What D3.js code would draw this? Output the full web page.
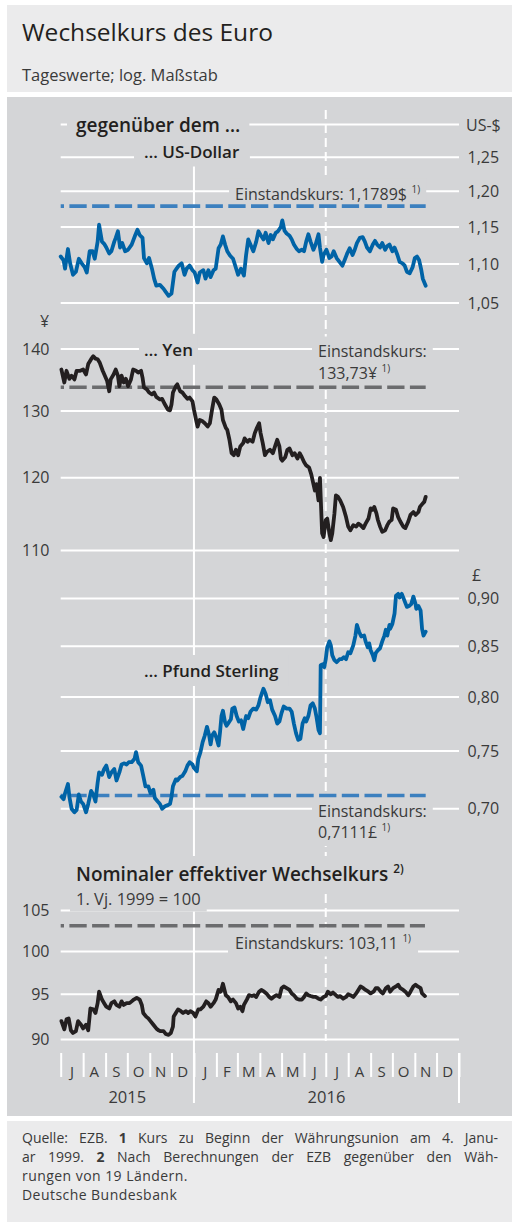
<!DOCTYPE html>
<html><head><meta charset="utf-8">
<script src="https://cdn.jsdelivr.net/npm/d3@7"></script>
<style>
body{margin:0;background:#fff;}
svg{display:block;font-family:"Open Sans",sans-serif;}
</style></head><body>
<svg id="c" width="512" height="1226"></svg>
<script>
// ---------- data ----------
const monthLetters = ["J","A","S","O","N","D","J","F","M","A","M","J","J","A","S","O","N","D"];
const yearLabels = ["2015","2016"];
const usdTicks = [1.05,1.10,1.15,1.20,1.25];
const usdGrid = [1.05,1.10,1.15,1.20,1.25,1.30];
const yenTicks = [110,120,130,140];
const gbpTicks = [0.70,0.75,0.80,0.85,0.90];
const neerTicks = [90,95,100,105];
const refUsd = 1.1789, refYen = 133.73, refGbp = 0.7111, refNeer = 103.11;
// [days since 1 July 2015, value]
const usd = [[0,1.110],[4,1.105],[6,1.094],[10,1.120],[13,1.101],[17,1.086],[21,1.090],[25,1.107],[29,1.101],[33,1.096],[36,1.089],[40,1.117],[44,1.117],[47,1.107],[51,1.130],[53,1.153],[57,1.130],[60,1.127],[63,1.122],[67,1.114],[70,1.117],[74,1.130],[76,1.135],[79,1.144],[82,1.122],[85,1.128],[89,1.117],[93,1.119],[98,1.126],[103,1.139],[106,1.146],[109,1.139],[113,1.135],[115,1.108],[119,1.101],[122,1.108],[126,1.094],[129,1.081],[132,1.072],[137,1.073],[142,1.068],[145,1.064],[149,1.059],[153,1.062],[157,1.090],[160,1.094],[163,1.098],[167,1.101],[171,1.086],[174,1.094],[178,1.098],[182,1.092],[185,1.089],[189,1.076],[192,1.089],[197,1.092],[200,1.081],[204,1.092],[207,1.083],[211,1.092],[214,1.094],[218,1.121],[221,1.126],[224,1.137],[227,1.126],[230,1.117],[234,1.111],[238,1.107],[243,1.092],[245,1.086],[249,1.094],[253,1.085],[256,1.112],[259,1.133],[262,1.126],[266,1.117],[270,1.130],[273,1.144],[276,1.139],[280,1.133],[283,1.142],[287,1.128],[290,1.139],[293,1.133],[297,1.142],[300,1.144],[304,1.150],[306,1.159],[309,1.145],[312,1.141],[316,1.138],[319,1.133],[322,1.126],[326,1.120],[329,1.117],[333,1.119],[336,1.117],[339,1.130],[342,1.140],[345,1.130],[349,1.119],[352,1.126],[356,1.140],[358,1.122],[361,1.103],[363,1.112],[367,1.119],[371,1.108],[374,1.110],[377,1.117],[381,1.108],[385,1.103],[389,1.098],[392,1.105],[396,1.115],[399,1.121],[403,1.112],[406,1.119],[409,1.128],[413,1.135],[417,1.136],[420,1.130],[423,1.122],[427,1.117],[431,1.126],[434,1.131],[437,1.126],[441,1.122],[444,1.128],[448,1.119],[451,1.124],[454,1.126],[458,1.117],[461,1.122],[465,1.112],[468,1.103],[472,1.101],[475,1.098],[478,1.090],[482,1.088],[486,1.096],[489,1.108],[492,1.110],[495,1.105],[498,1.092],[500,1.081],[504,1.072]];
const yen = [[1,136.6],[5,134.5],[8,136.4],[12,135.1],[15,135.6],[19,135.0],[22,136.4],[27,136.4],[31,136.6],[35,135.8],[38,137.5],[42,138.3],[45,138.8],[48,138.4],[51,138.3],[54,137.7],[58,136.4],[61,135.6],[64,134.8],[67,133.1],[69,135.0],[73,135.8],[76,136.6],[79,135.6],[81,133.9],[84,135.6],[87,134.5],[90,135.1],[93,133.9],[97,135.0],[100,136.6],[104,136.4],[107,136.1],[111,136.4],[113,135.3],[115,133.7],[119,133.4],[122,132.9],[126,132.6],[129,132.9],[132,132.2],[137,131.8],[140,131.9],[144,131.0],[148,130.2],[151,130.1],[153,131.0],[155,132.9],[159,133.9],[161,134.2],[165,133.1],[168,132.9],[172,132.3],[175,131.9],[178,132.1],[182,131.5],[184,130.2],[187,128.6],[189,127.6],[192,128.6],[196,128.4],[199,128.1],[203,127.6],[206,128.1],[209,130.2],[212,132.1],[215,131.8],[219,131.0],[222,130.2],[224,128.6],[228,127.4],[230,127.1],[233,125.6],[236,123.6],[239,123.3],[242,124.1],[245,123.3],[248,124.6],[252,125.1],[254,125.8],[258,125.3],[261,125.6],[265,125.3],[268,126.6],[271,127.4],[274,128.1],[276,126.6],[279,125.1],[282,123.3],[285,123.8],[289,124.1],[293,123.6],[296,124.6],[299,125.6],[302,124.6],[304,122.8],[306,122.5],[310,123.0],[313,124.1],[316,124.3],[320,123.3],[323,123.6],[327,122.8],[330,123.6],[333,123.0],[336,122.3],[339,121.8],[343,121.5],[346,120.5],[349,119.1],[351,118.2],[353,119.1],[356,116.8],[358,120.0],[359,117.3],[361,112.3],[363,111.8],[366,114.1],[368,114.3],[371,112.3],[373,111.4],[375,112.3],[378,115.0],[380,117.5],[383,117.3],[386,116.8],[390,115.9],[394,114.5],[397,113.2],[400,112.7],[404,113.4],[408,113.2],[411,113.6],[414,113.4],[418,113.0],[421,113.6],[425,114.3],[428,115.7],[431,115.5],[433,115.9],[436,115.0],[438,114.1],[441,113.2],[444,112.5],[448,112.7],[451,113.4],[454,113.9],[457,114.1],[459,115.7],[463,115.5],[466,114.5],[469,113.9],[473,113.2],[476,113.0],[480,113.9],[483,114.8],[487,115.2],[490,114.8],[494,115.2],[496,115.9],[500,116.4],[502,116.6],[504,117.3]];
const gbp = [[1,0.710],[4,0.708],[6,0.713],[10,0.721],[12,0.710],[15,0.700],[19,0.697],[22,0.699],[25,0.712],[28,0.706],[31,0.704],[35,0.697],[38,0.704],[42,0.715],[45,0.712],[48,0.706],[51,0.722],[53,0.731],[57,0.729],[60,0.734],[63,0.737],[67,0.727],[70,0.731],[74,0.734],[77,0.724],[81,0.731],[84,0.738],[88,0.739],[91,0.738],[94,0.740],[98,0.740],[102,0.743],[104,0.749],[107,0.740],[111,0.737],[114,0.728],[117,0.719],[121,0.719],[124,0.713],[128,0.716],[130,0.709],[134,0.706],[137,0.704],[140,0.700],[144,0.702],[148,0.703],[151,0.704],[153,0.710],[155,0.719],[159,0.725],[161,0.724],[165,0.727],[168,0.728],[172,0.732],[175,0.737],[178,0.740],[182,0.738],[184,0.735],[188,0.732],[190,0.743],[193,0.749],[196,0.758],[199,0.764],[202,0.772],[205,0.764],[207,0.756],[209,0.764],[212,0.767],[215,0.762],[218,0.755],[220,0.767],[222,0.782],[224,0.787],[227,0.776],[229,0.773],[231,0.775],[235,0.779],[237,0.789],[240,0.790],[243,0.782],[246,0.777],[249,0.778],[252,0.770],[256,0.782],[259,0.780],[262,0.786],[266,0.789],[270,0.788],[273,0.792],[276,0.800],[280,0.808],[283,0.803],[286,0.795],[289,0.797],[292,0.788],[296,0.782],[299,0.775],[302,0.777],[305,0.785],[308,0.791],[312,0.789],[316,0.789],[319,0.786],[322,0.775],[325,0.766],[328,0.760],[331,0.761],[334,0.775],[337,0.780],[339,0.777],[342,0.782],[345,0.792],[348,0.794],[351,0.789],[353,0.782],[356,0.769],[358,0.766],[359,0.831],[362,0.832],[364,0.829],[366,0.837],[368,0.849],[371,0.855],[373,0.851],[375,0.841],[378,0.836],[381,0.834],[385,0.837],[388,0.837],[391,0.839],[394,0.837],[397,0.844],[400,0.843],[404,0.851],[407,0.861],[409,0.872],[412,0.865],[415,0.860],[419,0.861],[421,0.855],[424,0.849],[426,0.853],[428,0.846],[431,0.841],[433,0.836],[435,0.843],[438,0.846],[441,0.848],[444,0.855],[447,0.861],[449,0.867],[451,0.861],[454,0.872],[455,0.868],[458,0.873],[461,0.884],[463,0.903],[466,0.905],[468,0.901],[471,0.905],[474,0.899],[478,0.891],[481,0.892],[484,0.894],[487,0.902],[490,0.894],[491,0.889],[494,0.892],[497,0.887],[499,0.868],[501,0.861],[504,0.865]];
const neer = [[1,92.0],[5,91.1],[8,92.2],[11,92.3],[14,91.0],[17,90.7],[21,90.9],[24,92.0],[28,91.6],[31,91.2],[35,91.6],[38,91.0],[41,93.4],[45,93.3],[48,92.9],[51,94.0],[53,95.3],[57,94.4],[60,94.0],[63,93.6],[67,93.4],[70,94.0],[74,94.2],[77,93.8],[81,93.6],[84,94.2],[87,93.8],[91,94.0],[95,94.0],[98,94.2],[101,94.4],[105,94.6],[109,94.4],[112,93.8],[114,92.9],[118,92.5],[121,92.3],[124,92.0],[128,91.6],[132,91.2],[135,91.0],[138,90.9],[142,90.9],[145,90.6],[149,90.5],[152,90.7],[155,91.4],[156,92.5],[159,92.9],[162,93.3],[166,93.1],[169,92.9],[173,93.1],[176,92.9],[179,93.1],[183,92.9],[186,92.5],[190,93.3],[193,93.3],[197,93.6],[201,94.2],[204,94.0],[207,93.6],[211,94.0],[214,94.4],[218,95.5],[221,95.3],[224,96.2],[228,94.9],[231,94.7],[235,94.2],[238,94.4],[242,94.0],[245,93.4],[248,93.6],[251,93.1],[253,93.8],[257,94.4],[260,94.9],[264,94.8],[267,94.9],[270,94.7],[274,95.3],[277,95.5],[281,95.3],[284,95.1],[288,94.7],[291,94.5],[294,94.7],[298,94.9],[302,94.7],[305,95.7],[308,95.9],[312,95.7],[316,95.5],[319,95.1],[322,94.9],[326,94.5],[329,94.4],[333,94.4],[336,94.7],[339,95.1],[342,94.9],[345,94.8],[349,94.7],[352,94.7],[356,94.5],[359,94.4],[363,94.7],[366,94.8],[369,95.3],[373,95.0],[376,95.2],[380,94.9],[383,94.7],[386,94.8],[390,94.5],[394,94.7],[397,95.0],[400,94.9],[404,94.7],[408,95.1],[411,95.5],[414,95.9],[418,95.7],[421,95.5],[425,95.3],[428,95.1],[432,95.3],[435,95.7],[438,95.7],[442,95.3],[445,95.1],[449,95.7],[452,95.9],[455,95.3],[459,95.7],[463,95.9],[466,96.1],[469,95.7],[473,95.5],[476,95.3],[480,94.9],[483,95.3],[487,95.9],[490,96.1],[493,95.9],[497,95.7],[499,95.1],[503,94.8]];

// ---------- drawing ----------
const svg = d3.select("#c");
const BG_LIGHT = "#ebebec", BG_PANEL = "#d4d5d7", INK = "#231f20", INK2 = "#3a3a3a";
const BLUE = "#0063a6", BLUE_REF = "#3c80bf", GREY_REF = "#6b6c6e";
const de = d3.formatLocale({decimal: ",", thousands: ".", grouping: [3], currency: ["", "€"]});
const f2 = de.format(".2f"), f4 = de.format(".4f"), f0 = de.format("d");

svg.append("rect").attr("x",7).attr("y",5).attr("width",505).attr("height",87).attr("fill",BG_LIGHT);
svg.append("rect").attr("x",7).attr("y",97).attr("width",505).attr("height",1019).attr("fill",BG_PANEL);
svg.append("rect").attr("x",7).attr("y",1121).attr("width",505).attr("height",101).attr("fill",BG_LIGHT);

svg.append("text").attr("x",22).attr("y",41).attr("font-size",24.5).attr("fill",INK).text("Wechselkurs des Euro");
svg.append("text").attr("x",22).attr("y",80.5).attr("font-size",16.5).attr("fill",INK2).text("Tageswerte; log. Maßstab");

const t0 = new Date(2015,6,1), t1 = new Date(2017,0,1);
const x = d3.scaleTime().domain([t0,t1]).range([60.7,459]);
const toDate = d => d3.timeDay.offset(t0, d);
const X0 = x.range()[0], X1 = x.range()[1];

const panels = [
  {data: usd, dom:[1.05,1.30], rng:[303,124.4], grid: usdGrid, ticks: usdTicks, side:"right", fmt:f2, color:BLUE, ref:refUsd, refColor:BLUE_REF},
  {data: yen, dom:[110,140], rng:[550.6,349], grid: yenTicks, ticks: yenTicks, side:"left", fmt:f0, color:INK, ref:refYen, refColor:GREY_REF},
  {data: gbp, dom:[0.70,0.90], rng:[808.7,598.5], grid: gbpTicks, ticks: gbpTicks, side:"right", fmt:f2, color:BLUE, ref:refGbp, refColor:BLUE_REF},
  {data: neer, dom:[90,105], rng:[1039.5,910.6], grid: neerTicks, ticks: neerTicks, side:"left", fmt:f0, color:INK, ref:refNeer, refColor:GREY_REF}
];
panels.forEach(p => p.y = d3.scaleLog().domain(p.dom).range(p.rng));

const gGrid = svg.append("g");
const gLab = svg.append("g");
const gRef = svg.append("g");
const gSer = svg.append("g");

// grid lines and value axes
panels.forEach(p => {
  gGrid.selectAll(null).data(p.grid).enter().append("line")
    .attr("x1",X0).attr("x2",X1).attr("y1",d=>p.y(d)).attr("y2",d=>p.y(d))
    .attr("stroke","#fff").attr("stroke-width",2);
  const ax = (p.side==="right" ? d3.axisRight(p.y) : d3.axisLeft(p.y))
    .tickValues(p.ticks).tickSize(0).tickPadding(0).tickFormat(p.fmt);
  const g = svg.append("g").attr("transform", `translate(${p.side==="right"?467.5:49.5},0)`).call(ax);
  g.select(".domain").remove();
  g.attr("font-family",null).attr("font-size",16).attr("color",INK2);
});

// vertical separators
const jan16 = new Date(2016,0,1), jul16 = new Date(2016,6,1);
gGrid.append("line").attr("x1",x(jan16)).attr("x2",x(jan16)).attr("y1",110).attr("y2",1103)
  .attr("stroke","#fff").attr("stroke-width",2);
gGrid.append("line").attr("x1",x(jul16)).attr("x2",x(jul16)).attr("y1",110).attr("y2",1041)
  .attr("stroke","#fff").attr("stroke-width",2).attr("stroke-dasharray","9,5");

// month ticks
const months = d3.timeMonth.range(t0, d3.timeDay.offset(t1,1));
const xAxis = d3.axisBottom(x).tickValues(months).tickSize(24).tickFormat("");
const gx = svg.append("g").attr("transform","translate(0,1053)").call(xAxis);
gx.select(".domain").remove();
gx.selectAll(".tick line").attr("stroke","#fff").attr("stroke-width",2);
gGrid.append("line").attr("x1",x(t1)).attr("x2",x(t1)).attr("y1",1053).attr("y2",1103).attr("stroke","#fff").attr("stroke-width",2);
const mids = months.slice(0,-1).map((m,i)=> new Date((+m + +months[i+1])/2));
svg.append("g").selectAll("text").data(mids).enter().append("text")
  .attr("x",d=>x(d)).attr("y",1076.5).attr("text-anchor","middle").attr("font-size",15)
  .attr("fill",INK2).text((d,i)=>monthLetters[i]);
const yearSpans = [[t0,jan16],[jan16,t1]];
svg.append("g").selectAll("text").data(yearSpans).enter().append("text")
  .attr("x",d=>(x(d[0])+x(d[1]))/2).attr("y",1103).attr("text-anchor","middle").attr("font-size",16.5)
  .attr("fill",INK2).text((d,i)=>yearLabels[i]);

// labels with knock-out boxes
function boxed(padX, padY, build){
  const g = gLab.append("g");
  build(g);
  const bb = g.node().getBBox();
  g.insert("rect",":first-child").attr("x",bb.x-padX).attr("y",bb.y-padY)
    .attr("width",bb.width+2*padX).attr("height",bb.height+2*padY).attr("fill",BG_PANEL);
  return g;
}
function txt(g, xx, yy, size, weight, fill, main, sup){
  const t = g.append("text").attr("x",xx).attr("y",yy).attr("font-size",size).attr("font-weight",weight).attr("fill",fill);
  t.append("tspan").text(main);
  if (sup) t.append("tspan").attr("font-size",size*0.62).attr("dy",-size*0.42).attr("dx",2).text(sup);
  return t;
}
const SEMI = 600;
boxed(9,4,g=>txt(g,76,131.5,19,SEMI,INK,"gegenüber dem …"));
txt(gLab,466,130.5,16,400,INK2,"US-$");
boxed(10,4,g=>txt(g,144,157.5,17,SEMI,INK,"… US-Dollar"));
boxed(6,3,g=>txt(g,235,199.5,16,400,INK2,"Einstandskurs: "+f4(refUsd)+"$"," 1)"));
txt(gLab,40,327,16,400,INK2,"¥");
boxed(5,4,g=>txt(g,144,355.8,17,SEMI,INK,"… Yen"));
boxed(6,3,g=>{ txt(g,318,356.5,16,400,INK2,"Einstandskurs:"); txt(g,318,378.5,16,400,INK2,f2(refYen)+"¥"," 1)"); });
txt(gLab,472,580.5,16,400,INK2,"£");
boxed(10,4,g=>txt(g,144,677,17,SEMI,INK,"… Pfund Sterling"));
boxed(6,3,g=>{ txt(g,318,817,16,400,INK2,"Einstandskurs:"); txt(g,318,838,16,400,INK2,f4(refGbp)+"£"," 1)"); });
boxed(8,4,g=>txt(g,76,881,19,SEMI,INK,"Nominaler effektiver Wechselkurs"," 2)"));
boxed(6,2,g=>txt(g,76,904.5,16.5,400,INK2,"1. Vj. 1999 = 100"));
boxed(7,3,g=>txt(g,235,948.5,16,400,INK2,"Einstandskurs: "+f2(refNeer)," 1)"));

// reference (Einstandskurs) lines and series
panels.forEach(p => {
  const last = toDate(p.data[p.data.length-1][0]);
  gRef.append("line").attr("x1",x(t0)).attr("x2",x(last)).attr("y1",p.y(p.ref)).attr("y2",p.y(p.ref))
    .attr("stroke",p.refColor).attr("stroke-width",3.6).attr("stroke-dasharray","17.3,5.4").attr("stroke-dashoffset",14);
  const line = d3.line().x(d=>x(toDate(d[0]))).y(d=>p.y(d[1]));
  gSer.append("path").datum(p.data).attr("d",line).attr("fill","none")
    .attr("stroke",p.color).attr("stroke-width",3.8).attr("stroke-linejoin","round").attr("stroke-linecap","round");
});

// footer: justified lines
const foot = svg.append("g").attr("font-size",14).attr("fill",INK2);
const footLines = [
  {y:1142.5, justify:true, parts:[["Quelle: EZB. ",400],["1",700],[" Kurs zu Beginn der Währungsunion am 4. Janu-",400]]},
  {y:1161.7, justify:true, parts:[["ar 1999. ",400],["2",700],[" Nach Berechnungen der EZB gegenüber den Wäh-",400]]},
  {y:1180.9, justify:false, parts:[["rungen von 19 Ländern.",400]]},
  {y:1200.1, justify:false, parts:[["Deutsche Bundesbank",400]]}
];
footLines.forEach(ln => {
  const t = foot.append("text").attr("x",22).attr("y",ln.y);
  ln.parts.forEach(s => t.append("tspan").attr("font-weight",s[1]).text(s[0]));
  if (ln.justify){
    const w = t.node().getComputedTextLength();
    const spaces = ln.parts.map(s=>s[0]).join("").split(" ").length-1;
    t.attr("word-spacing",(498-22-w)/spaces);
  } else {
    t.attr("letter-spacing",0.45);
  }
});
</script>
</body></html>
